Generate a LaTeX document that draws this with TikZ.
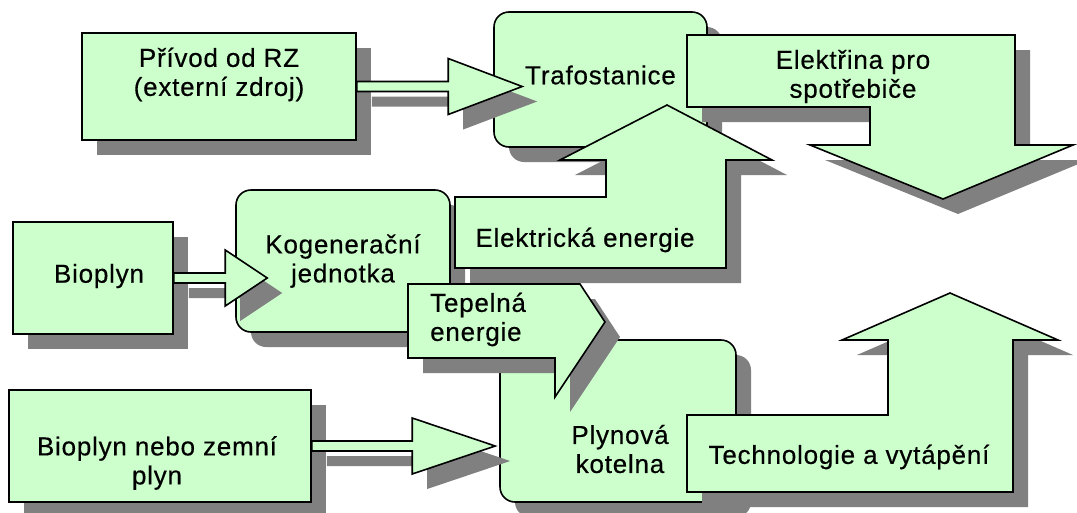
\documentclass[tikz,border=0pt]{standalone}
\usepackage{fontspec}
\setmainfont{Liberation Sans}[LetterSpace=3,FakeBold=0.4]
\usetikzlibrary{calc,shadows}

\definecolor{boxgreen}{HTML}{CCFFCC}
\definecolor{shadowgray}{HTML}{808080}

\tikzset{
  cast/.style={drop shadow={shadow xshift=15pt,shadow yshift=-15pt,fill=shadowgray,opacity=1}},
  box/.style={draw=black,line width=1.6pt,fill=boxgreen,cast,align=center,inner sep=0pt},
  roundbox/.style={box,rounded corners=15pt},
  flowshape/.style={draw=black,line width=1.6pt,fill=boxgreen,cast},
  boxtext/.style={align=center,inner sep=0pt}
}

% fat arrow: start, tip, head length
\newcommand{\fatarrow}[3]{%
  \filldraw[flowshape] ($(#1)+(0,-5)$) -- ($(#2)+(-#3,-5)$) -- ($(#2)+(-#3,-28)$) -- (#2)
    -- ($(#2)+(-#3,28)$) -- ($(#2)+(-#3,5)$) -- ($(#1)+(0,5)$) -- cycle;
}

\begin{document}
\begin{tikzpicture}[x=1pt,y=-1pt,font=\fontsize{26}{29}\selectfont]
  \useasboundingbox (0,0) rectangle (1077,512);

  % Top row: external supply and transformer station
  \node[box,minimum width=274,minimum height=107] (privod) at (219,86.5) {};
  \node[boxtext] (privodtext) at (219,74.5) {Přívod od RZ\\(externí zdroj)};
  \node[roundbox,minimum width=213,minimum height=135] (trafo) at (600.5,79.5) {};
  \node[boxtext] (trafotext) at (600.5,75) {Trafostanice};

  % Arrow from the external supply
  \coordinate (tip1) at ($(privod.east -| trafo.west)+(29,0)$);
  \fatarrow{privod.east}{tip1}{74}

  % Electricity for consumers (bent arrow)
  \filldraw[flowshape] (687,35) -- (1015,35) -- (1015,145) -- (1073,145) -- (943,199)
    -- (810,145) -- (870,145) -- (870,107) -- (687,107) -- cycle;
  \node[boxtext] (elektrina) at (853,76.5) {Elektřina pro\\spotřebiče};

  % Middle row: biogas into the cogeneration unit
  \node[box,minimum width=160,minimum height=112] (bioplyn) at (93,278) {};
  \node[boxtext] (bioplyntext) at (99,276) {Bioplyn};
  \node[roundbox,minimum width=214,minimum height=142] (kog) at (343,261) {Kogenerační\\jednotka};
  \coordinate (tip2) at ($(bioplyn.east -| kog.west)+(32,0)$);
  \fatarrow{bioplyn.east}{tip2}{42}

  % Electric energy up to the transformer station
  \filldraw[flowshape] (455,197) -- (606,197) -- (606,160) -- (560,160) -- (667,105)
    -- (772,160) -- (726,160) -- (726,268) -- (455,268) -- cycle;
  \node[boxtext] (elektricka) at (585,240) {Elektrická energie};

  % Bottom row: gas boiler house
  \node[roundbox,minimum width=236,minimum height=162] (plynova) at (618,421) {};
  \node[boxtext] (plynovatext) at (620,449) {Plynová\\kotelna};

  % Heat energy from the cogeneration unit
  \filldraw[flowshape] (408,284) -- (580,284) -- (605,322) -- (555,397) -- (555,358)
    -- (408,358) -- cycle;
  \node[boxtext,align=left,anchor=west] (tepelna) at (430,319.5) {Tepelná\\energie};

  % Biogas or natural gas into the boiler house
  \node[box,minimum width=302,minimum height=112] (zemni) at (160,446) {};
  \node[boxtext] (zemnitext) at (157,463) {Bioplyn nebo zemní\\plyn};
  \coordinate (tip3) at ($(zemni.east -| plynova.west)+(-4,0)$);
  \fatarrow{zemni.east}{tip3}{83}

  % Technology and heating (bent arrow)
  \filldraw[flowshape] (687,415) -- (888,415) -- (888,340) -- (842,340) -- (950,293)
    -- (1058,340) -- (1013,340) -- (1013,492) -- (687,492) -- cycle;
  \node[boxtext] (technologie) at (849,457) {Technologie a vytápění};
\end{tikzpicture}
\end{document}
